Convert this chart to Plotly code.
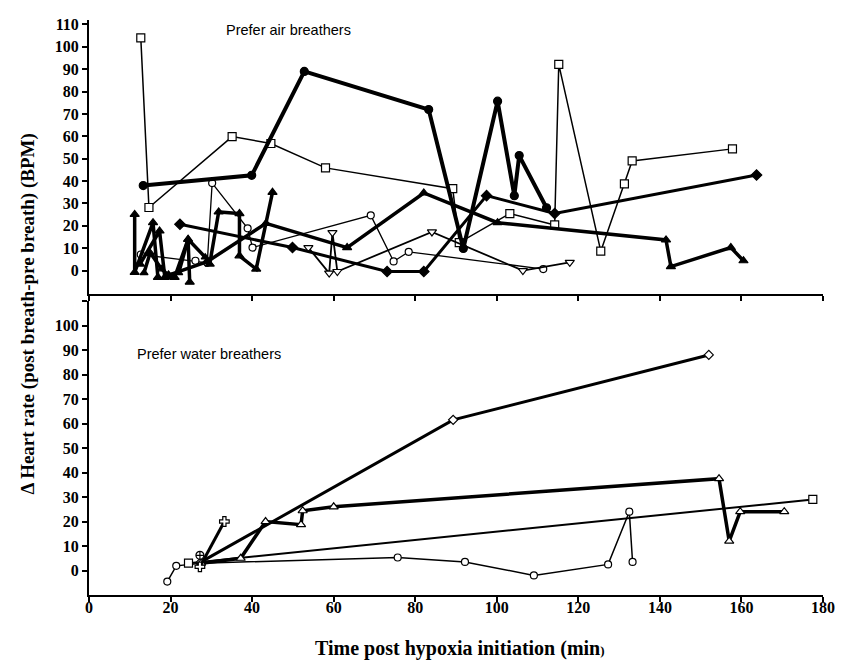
import plotly.graph_objects as go

# ---------------- Top panel: Prefer air breathers ----------------
air_sq_x = [12.7, 14.7, 35.1, 44.6, 58.0, 89.2, 90.8, 103.2, 114.2, 115.2, 125.5, 131.3, 133.2, 157.8]
air_sq_y = [104, 28.2, 59.9, 56.8, 45.9, 36.6, 12.5, 25.5, 20.4, 92.2, 8.7, 38.8, 49, 54.4]

air_circ_x = [13.3, 39.9, 52.8, 83.3, 91.8, 100.2, 104.3, 105.5, 112.2]
air_circ_y = [38, 42.6, 89, 72, 9.9, 75.7, 33.5, 51.4, 28.1]

air_tri_x = [19.5, 29.0, 43.4, 63.3, 82.1, 100.2, 141.5, 142.7, 157.4, 160.5]
air_tri_y = [-2, 4, 21.1, 10.3, 34.7, 21.4, 13.7, 1.8, 10.3, 4.4]

air_dia_x = [22.3, 49.9, 73.1, 82.1, 97.5, 114.2, 163.7]
air_dia_y = [20.7, 10.3, -0.4, -0.4, 33.5, 25.5, 42.7]

air_e_x = [29.6, 31.8, 36.9, 36.9, 41.0, 45.0]
air_e_y = [2.9, 26.2, 25.5, 6.6, 0.7, 35]

air_oc_x = [12.7, 26.1, 29.0, 30.2, 38.9, 40.1, 69.1, 74.7, 78.4, 111.4]
air_oc_y = [7.2, 4.4, 3.5, 39.1, 18.9, 10.3, 24.7, 4.1, 8.4, 0.7]

air_dt_x = [53.8, 58.9, 59.7, 60.9, 84.1, 106.4, 117.9]
air_dt_y = [10.3, -1.1, 17.0, -0.4, 17.3, 0.0, 3.7]

air_h1_x = [11.2, 11.2, 15.7, 16.9]
air_h1_y = [25.1, -0.8, 21.4, -3]
air_h2_x = [12.5, 17.3, 18.6, 21.0, 24.3, 24.7]
air_h2_y = [2.9, 17.7, -3, -3, 14, -5.2]
air_h3_x = [13.5, 15.0, 17.8, 19.5, 22.0, 24.3, 28.5]
air_h3_y = [-1, 8, 0.7, -2, -1, 14, 6]

# ---------------- Bottom panel: Prefer water breathers ----------------
wat_dia_x = [27.5, 89.3, 152.0]
wat_dia_y = [3.5, 61.5, 88]

wat_tri_x = [27.5, 37.2, 43.3, 52.0, 52.4, 60.0, 154.5, 157.0, 159.7, 170.5]
wat_tri_y = [3, 5, 20, 18.7, 24.4, 26, 37.5, 12, 24, 24]

wat_sq_x = [24.4, 177.5]
wat_sq_y = [3, 29]

wat_oc_x = [19.2, 21.4, 27.5, 75.7, 92.2, 109.1, 127.3, 132.5, 133.3]
wat_oc_y = [-4.5, 1.9, 3, 5.3, 3.5, -2, 2.5, 24, 3.5]

wat_cr_x = [27.2, 33.2]
wat_cr_y = [1.5, 20]

wat_cc_x = [27.2]
wat_cc_y = [6.2]

x_ticks = list(range(0, 181, 20))
top_ticks = list(range(0, 111, 10))
bot_ticks = list(range(0, 111, 10))
bot_ticktext = [str(v) for v in range(0, 101, 10)] + [""]

fig = go.Figure()


def add(x, y, lw, symbol, size, filled, axes, ml=1.2):
    xa, ya = axes
    fig.add_trace(go.Scatter(
        x=x, y=y, mode="lines+markers", xaxis=xa, yaxis=ya,
        line=dict(color="black", width=lw),
        marker=dict(symbol=symbol, size=size,
                    color="black" if filled else "white",
                    line=dict(color="black", width=ml)),
        showlegend=False, hoverinfo="skip"))


T = ("x", "y")
B = ("x2", "y2")

add(air_sq_x, air_sq_y, 1.5, "square", 8, False, T)
add(air_oc_x, air_oc_y, 1.3, "circle", 7, False, T)
add(air_dt_x, air_dt_y, 1.8, "triangle-down", 8, False, T)
add(air_dia_x, air_dia_y, 3.0, "diamond", 8, True, T)
add(air_tri_x, air_tri_y, 3.5, "triangle-up", 8, True, T)
add(air_e_x, air_e_y, 3.5, "triangle-up", 8, True, T)
add(air_h1_x, air_h1_y, 3.5, "triangle-up", 8, True, T)
add(air_h2_x, air_h2_y, 3.5, "triangle-up", 8, True, T)
add(air_h3_x, air_h3_y, 3.5, "triangle-up", 7, True, T)
add(air_circ_x, air_circ_y, 4.0, "circle", 8, True, T)

add(wat_oc_x, wat_oc_y, 1.5, "circle", 7, False, B)
add(wat_sq_x, wat_sq_y, 2.0, "square", 8, False, B)
add(wat_dia_x, wat_dia_y, 3.0, "diamond", 7, False, B)
add(wat_tri_x, wat_tri_y, 3.5, "triangle-up", 8, False, B)
add(wat_cr_x, wat_cr_y, 3.0, "cross", 8, False, B)
add(wat_cc_x, wat_cc_y, 1.5, "circle-cross", 8, False, B)

tickfont = dict(family="Liberation Serif", size=16, color="black", weight="bold")
axis_common = dict(showline=True, linecolor="black", linewidth=2, ticks="outside",
                   ticklen=5, tickwidth=1.5, tickcolor="black", showgrid=False,
                   zeroline=False, tickfont=tickfont)

# the page body keeps an 8px margin, so the figure is 8px smaller and its
# own top/left margins are 8px smaller to land the plot area where intended
fig.update_layout(
    width=835, height=652,
    margin=dict(l=81, r=17, t=8, b=65),
    paper_bgcolor="white", plot_bgcolor="white",
    xaxis=dict(domain=[0, 1], range=[0, 180], anchor="y", tickvals=x_ticks,
               showticklabels=False, **axis_common),
    yaxis=dict(domain=[0.5233, 1], range=[-10.5, 112], anchor="x", tickvals=top_ticks,
               **axis_common),
    xaxis2=dict(domain=[0, 1], range=[0, 180], anchor="y2", tickvals=x_ticks,
                ticklabelstandoff=-8, **axis_common),
    yaxis2=dict(domain=[0, 0.5112], range=[-10, 110], anchor="x2", tickvals=bot_ticks,
                ticktext=bot_ticktext, **axis_common),
    annotations=[
        dict(text="Prefer air breathers", x=49, y=107.5, xref="x", yref="y",
             showarrow=False, xanchor="center", yanchor="middle",
             font=dict(family="Liberation Sans", size=14.5, color="black")),
        dict(text="Prefer water breathers", x=29.5, y=88.5, xref="x2", yref="y2",
             showarrow=False, xanchor="center", yanchor="middle",
             font=dict(family="Liberation Sans", size=14.5, color="black")),
        dict(text="Time post hypoxia initiation (min<span style='font-size:13px'>)</span>",
             x=0.505, y=-0.093, xref="paper", yref="paper", showarrow=False,
             xanchor="center", yanchor="middle",
             font=dict(family="Liberation Serif", size=20, color="black", weight="bold")),
        dict(text="\u0394 Heart rate (post breath-pre breath) (BPM)",
             x=-0.083, y=0.488, xref="paper", yref="paper", showarrow=False,
             textangle=-90, xanchor="center", yanchor="middle",
             font=dict(family="Liberation Serif", size=19, color="black", weight="bold")),
    ],
)

fig.write_html("out.html")
